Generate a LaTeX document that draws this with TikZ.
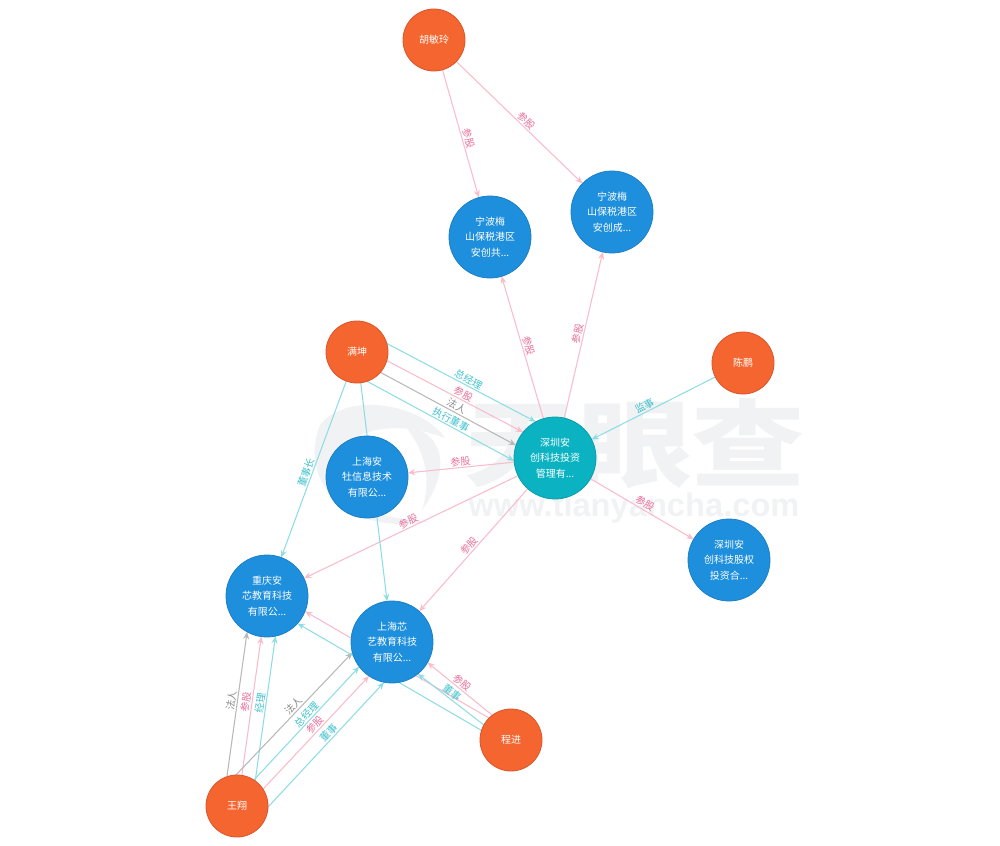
\documentclass[tikz,border=0pt]{standalone}
\usepackage{fontspec}
\setmainfont{Noto Sans CJK SC}
\newfontfamily\urlfont{Liberation Sans}
\usetikzlibrary{arrows.meta}
\pgfdeclarelayer{wm}
\pgfdeclarelayer{edges}
\pgfsetlayers{wm,edges,main}
\definecolor{pinkline}{HTML}{F9BCCB}
\definecolor{pinktext}{HTML}{E8709A}
\definecolor{tealline}{HTML}{8FDDE4}
\definecolor{tealtext}{HTML}{3FC0CC}
\definecolor{greyline}{HTML}{B8B8B8}
\definecolor{greytext}{HTML}{8A8A8A}
\definecolor{wmgrey}{HTML}{F1F2F3}
\definecolor{HTMLorange}{HTML}{F5652F}
\definecolor{HTMLorangeD}{HTML}{D9562A}
\definecolor{HTMLblue}{HTML}{1E8FDC}
\definecolor{HTMLblueD}{HTML}{1C80C6}
\definecolor{HTMLhub}{HTML}{0BB3C2}
\definecolor{HTMLhubD}{HTML}{0A9DAB}
\tikzset{
  person/.style={circle,minimum size=46.5pt,inner sep=0pt,outer sep=0pt,fill=HTMLorange,draw=HTMLorangeD,line width=.6pt,text=white,font=\fontsize{7.5pt}{11.6pt}\selectfont,align=center},
  company/.style={circle,minimum size=61.5pt,inner sep=0pt,outer sep=0pt,fill=HTMLblue,draw=HTMLblueD,line width=.6pt,text=white,font=\fontsize{7.5pt}{11.6pt}\selectfont,align=center},
  hub/.style={company,fill=HTMLhub,draw=HTMLhubD},
  link/.style={line width=.8pt},
  pinkedge/.style={link,draw=pinkline,-{Stealth[length=5.5pt,width=4.5pt,fill=pinkline]}},
  tealedge/.style={link,draw=tealline,-{Stealth[length=5.5pt,width=4.5pt,fill=tealline]}},
  greyedge/.style={link,draw=greyline,-{Stealth[length=5.5pt,width=4.5pt,fill=greyline]}},
  lab/.style={sloped,above,inner sep=.8pt,font=\fontsize{7.5pt}{8pt}\selectfont},
  pinklab/.style={lab,text=pinktext},
  teallab/.style={lab,text=tealtext},
  greylab/.style={lab,text=greytext},
}
\begin{document}
\begin{tikzpicture}[x=0.75pt,y=-0.75pt]
\useasboundingbox (0,0) rectangle (1000,846);
% watermark
\begin{pgfonlayer}{wm}
\fill[wmgrey] (445,438) .. controls (420,402) and (345,392) .. (320,425)
  .. controls (298,480) and (345,538) .. (432,521)
  .. controls (385,522) and (345,505) .. (340,470)
  .. controls (335,435) and (385,415) .. (445,438) -- cycle;
\fill[wmgrey] (405,426) .. controls (440,430) and (455,465) .. (422,510)
  .. controls (432,480) and (425,450) .. (405,426) -- cycle;
\node[text=wmgrey,xscale=1.2,font=\fontsize{71pt}{71pt}\selectfont\bfseries] (wmtitle) at (635,444) {天眼查};
\node[text=wmgrey,font=\urlfont\bfseries\fontsize{24.5pt}{28pt}\selectfont] (wmurl) at (634,508) {www.tianyancha.com};
\end{pgfonlayer}
% nodes
\node[person] (hu) at (434,40) {胡敏玲};
\node[company] (nbone) at (490,237) {宁波梅\\山保税港区\\安创共...};
\node[company] (nbtwo) at (612,212) {宁波梅\\山保税港区\\安创成...};
\node[person] (mk) at (357,352) {满坤};
\node[person] (cp) at (743,363) {陈鹏};
\node[hub] (sz) at (555,458) {深圳安\\创科技投资\\管理有...};
\node[company] (sh) at (367,477) {上海安\\牡信息技术\\有限公...};
\node[company] (gq) at (729,560) {深圳安\\创科技股权\\投资合...};
\node[company] (cq) at (267,596) {重庆安\\芯教育科技\\有限公...};
\node[company] (xy) at (392,642) {上海芯\\艺教育科技\\有限公...};
\node[person] (cj) at (511,740) {程进};
\node[person] (wx) at (237,806) {王翔};
% edges
\begin{pgfonlayer}{edges}
\draw[pinkedge] (hu) -- node[pinklab,pos=.55]{参股} (nbone);
\draw[pinkedge] (hu) -- node[pinklab,pos=.52]{参股} (nbtwo);
\draw[pinkedge] (sz) -- node[pinklab,pos=.5]{参股} (nbone);
\draw[pinkedge] (sz) -- node[pinklab,pos=.5]{参股} (nbtwo);
\draw[tealedge] (cp) -- node[teallab,pos=.55]{监事} (sz);
\draw[tealedge] (mk.16) -- node[teallab,pos=.53]{总经理} (sz.118);
\draw[pinkedge] (mk.-16) -- node[pinklab,pos=.54]{参股} (sz.141);
\draw[greyedge] (mk.-41) -- node[greylab,pos=.54]{法人} (sz.162);
\draw[tealedge] (mk.-71) -- node[teallab,pos=.55]{执行董事} (sz.184);
\draw[pinkedge] (sz) -- node[pinklab,pos=.5]{参股} (sh);
\draw[pinkedge] (sz) -- node[pinklab,pos=.5]{参股} (cq);
\draw[pinkedge] (sz) -- node[pinklab,pos=.5]{参股} (xy);
\draw[pinkedge] (sz) -- node[pinklab,pos=.5]{参股} (gq);
\draw[tealedge] (mk) -- node[teallab,pos=.53]{董事长} (cq);
\draw[tealedge] (mk) -- (xy);
\draw[greyedge] (wx.109) -- node[greylab,pos=.52]{法人} (cq.241);
\draw[pinkedge] (wx.81) -- node[pinklab,pos=.52]{参股} (cq.262);
\draw[tealedge] (wx.54) -- node[teallab,pos=.53]{经理} (cq.282);
\draw[greyedge] (wx.92) -- node[greylab,pos=.53]{法人} (xy.195);
\draw[tealedge] (wx.57) -- node[teallab,pos=.54]{总经理} (xy.217);
\draw[pinkedge] (wx.33) -- node[pinklab,pos=.53]{参股} (xy.236);
\draw[tealedge] (wx.-2) -- node[teallab,pos=.56]{董事} (xy.259);
\draw[pinkedge] (cj.135) -- (cq.-22);
\draw[tealedge] (cj.162) -- (cq.-42);
\draw[pinkedge] (cj.127) -- node[pinklab,pos=.53]{参股} (xy.-30);
\draw[tealedge] (cj.151) -- node[teallab,pos=.54]{董事} (xy.-51);
\end{pgfonlayer}
\end{tikzpicture}
\end{document}
